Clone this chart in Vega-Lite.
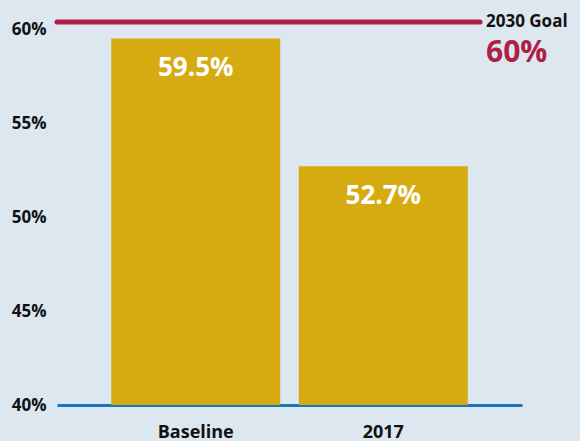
{
  "$schema": "https://vega.github.io/schema/vega-lite/v6.json",
  "width": 465,
  "height": 376,
  "autosize": {"type": "none"},
  "padding": {"left": 57, "top": 29, "right": 58, "bottom": 36},
  "background": "#dde7f0",
  "config": {"view": {"stroke": null}, "font": "Open Sans"},
  "datasets": {
    "bars": [
      {"period": "Baseline", "share": 0.595},
      {"period": "2017", "share": 0.527}
    ],
    "goal": [
      {"label": "2030 Goal", "target": 0.60}
    ]
  },
  "layer": [
    {
      "data": {"name": "bars"},
      "mark": {"type": "bar", "color": "#d6ab12", "clip": true},
      "encoding": {
        "x": {
          "field": "period", "type": "nominal", "sort": null,
          "scale": {"paddingInner": 0.099, "paddingOuter": 0.289},
          "axis": {
            "title": null, "labelAngle": 0, "ticks": false,
            "domainColor": "#1a76bc", "domainWidth": 3,
            "labelFont": "Open Sans", "labelFontWeight": "bold", "labelFontSize": 18,
            "labelColor": "#111111", "labelPadding": 18
          }
        },
        "y": {
          "field": "share", "type": "quantitative",
          "scale": {"domain": [0.4, 0.6], "nice": false, "zero": false},
          "axis": {
            "title": null, "values": [0.4, 0.45, 0.5, 0.55, 0.6], "format": ".0%",
            "ticks": false, "domain": false, "grid": false,
            "labelFont": "Open Sans", "labelFontWeight": "bold", "labelFontSize": 17,
            "labelColor": "#111111", "labelPadding": 11
          }
        }
      }
    },
    {
      "data": {"name": "bars"},
      "mark": {"type": "text", "color": "white", "fontSize": 26, "fontWeight": "bold", "baseline": "alphabetic", "dy": 38},
      "encoding": {
        "x": {"field": "period", "type": "nominal", "sort": null},
        "y": {"field": "share", "type": "quantitative"},
        "text": {"field": "share", "type": "quantitative", "format": ".1%"}
      }
    },
    {
      "data": {"name": "goal"},
      "mark": {"type": "rule", "color": "#ad1f45", "strokeWidth": 5, "strokeCap": "round", "yOffset": -7, "x2Offset": -42},
      "encoding": {
        "x": {"value": 0},
        "x2": {"value": "width"},
        "y": {"field": "target", "type": "quantitative"}
      }
    },
    {
      "data": {"name": "goal"},
      "mark": {"type": "text", "align": "left", "baseline": "middle", "fontSize": 17, "fontWeight": "bold", "color": "#111111", "dx": -36, "dy": -7},
      "encoding": {
        "x": {"value": "width"},
        "y": {"field": "target", "type": "quantitative"},
        "text": {"field": "label"}
      }
    },
    {
      "data": {"name": "goal"},
      "mark": {"type": "text", "align": "left", "baseline": "middle", "fontSize": 30, "fontWeight": "bold", "color": "#ad1f45", "dx": -36, "dy": 24},
      "encoding": {
        "x": {"value": "width"},
        "y": {"field": "target", "type": "quantitative"},
        "text": {"field": "target", "type": "quantitative", "format": ".0%"}
      }
    }
  ]
}
